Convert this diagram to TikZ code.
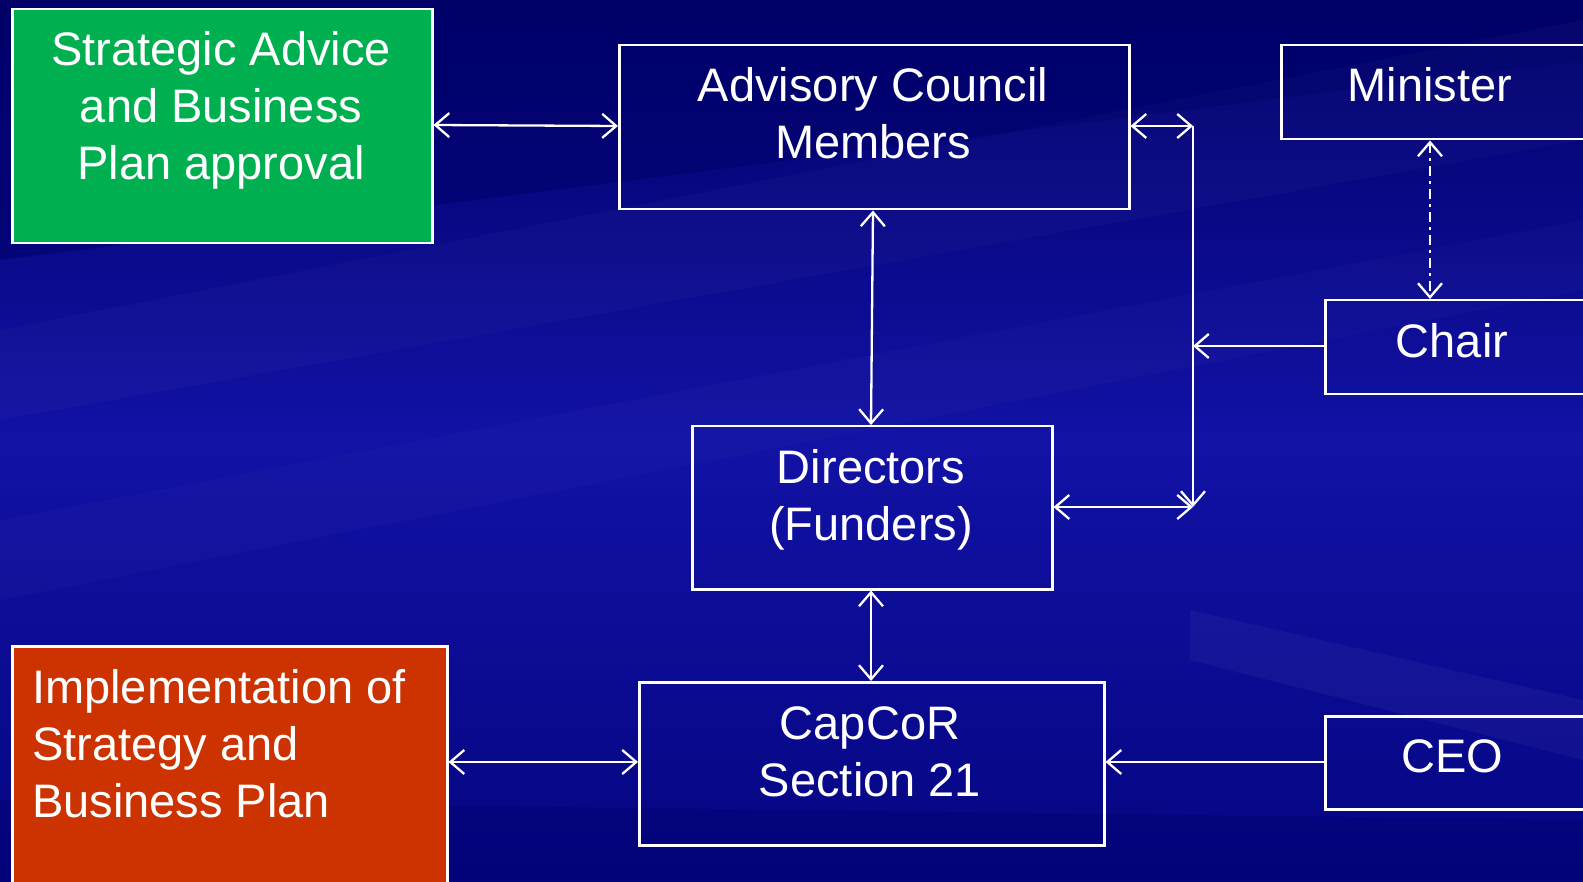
\documentclass[tikz,border=0pt]{standalone}
\usepackage{fontspec}
\setmainfont{Liberation Sans}
\usetikzlibrary{arrows.meta}
\definecolor{bgtop}{RGB}{0,0,105}
\definecolor{bgmid}{RGB}{18,18,165}
\definecolor{bgbot}{RGB}{5,5,130}
\definecolor{gbox}{RGB}{0,176,80}
\definecolor{rbox}{RGB}{204,51,0}
\begin{document}
\begin{tikzpicture}[x=1pt,y=-1pt,
  boxframe/.style={draw=white,line width=2.5pt,rectangle,inner sep=0pt,anchor=north west},
  txt/.style={text=white,inner sep=0pt,font=\fontsize{47}{57}\selectfont,anchor=north},
  conn/.style={draw=white,line width=2.3pt,{Straight Barb[length=14pt,width=24pt,line width=2.3pt]}-{Straight Barb[length=14pt,width=24pt,line width=2.3pt]}},
  conn1/.style={draw=white,line width=2.3pt,-{Straight Barb[length=14pt,width=24pt,line width=2.3pt]}},
]
\useasboundingbox (0,0) rectangle (1583,882);
\clip (0,0) rectangle (1583,882);
% background
\shade[top color=bgtop,bottom color=bgbot,middle color=bgmid] (0,0) rectangle (1583,882);
\fill[bgtop,opacity=0.5] (0,0) -- (1583,0) -- (1583,60) -- (0,260) -- cycle;
\fill[white,opacity=0.025] (0,330) -- (1583,20) -- (1583,140) -- (0,420) -- cycle;
\fill[white,opacity=0.02] (0,520) -- (1583,220) -- (1583,290) -- (0,600) -- cycle;
\fill[white,opacity=0.04] (1190,610) -- (1583,700) -- (1583,760) -- (1190,660) -- cycle;
\fill[bgtop,opacity=0.35] (0,800) -- (1583,820) -- (1583,882) -- (0,882) -- cycle;

% boxes
\node[boxframe,fill=gbox,minimum width=420,minimum height=234] (strat) at (11,8) {};
\node[boxframe,minimum width=510,minimum height=164] (adv) at (618,44) {};
\node[boxframe,minimum width=360,minimum height=94] (min) at (1280,44) {};
\node[boxframe,minimum width=320,minimum height=94] (chair) at (1324,299) {};
\node[boxframe,minimum width=360,minimum height=163] (dir) at (691,425) {};
\node[boxframe,minimum width=465,minimum height=163] (cap) at (638,681) {};
\node[boxframe,minimum width=320,minimum height=93] (ceo) at (1324,715) {};
\node[boxframe,fill=rbox,minimum width=435,minimum height=260] (impl) at (11,645) {};

% texts
\node[txt,align=center] (strattxt) at (221,25) {\strut Strategic Advice\\\strut and Business\\\strut Plan approval};
\node[txt,align=center] (advtxt) at (873,61) {\strut Advisory Council\\\strut Members};
\node[txt] (mintxt) at (1430,61) {\strut Minister};
\node[txt] (chairtxt) at (1452,317) {\strut Chair};
\node[txt,align=center] (dirtxt) at (871,443) {\strut Directors\\\strut (Funders)};
\node[txt,align=center] (captxt) at (870,699) {\strut CapCoR\\\strut Section 21};
\node[txt] (ceotxt) at (1452,732) {\strut CEO};
\node[txt,align=left,anchor=north west] (impltxt) at (32,663) {\strut Implementation of\\\strut Strategy and\\\strut Business Plan};

% junction coordinates
\coordinate (jtop) at (1193,126);
\coordinate (jbot) at (1193,507);
\coordinate (jmid) at (1193,346);

% connectors
\draw[conn] (strat.east |- 0,125) -- (adv.west |- 0,126);
\draw[conn] (adv.east |- jtop) -- (jtop);
\draw[conn1] (jtop) -- (jbot);
\draw[conn] (dir.east |- jbot) -- (jbot);
\draw[conn1] (chair.west |- jmid) -- (jmid);
\draw[conn,dash pattern=on 10pt off 5pt on 3pt off 5pt] (min.south -| 1430,0) -- (chair.north -| 1430,0);
\draw[conn] (adv.south -| 873,0) -- (dir.north -| 871,0);
\draw[conn] (dir.south -| 871,0) -- (cap.north -| 871,0);
\draw[conn] (impl.east |- 0,762) -- (cap.west |- 0,762);
\draw[conn1] (ceo.west |- 0,762) -- (cap.east |- 0,762);
\end{tikzpicture}
\end{document}
